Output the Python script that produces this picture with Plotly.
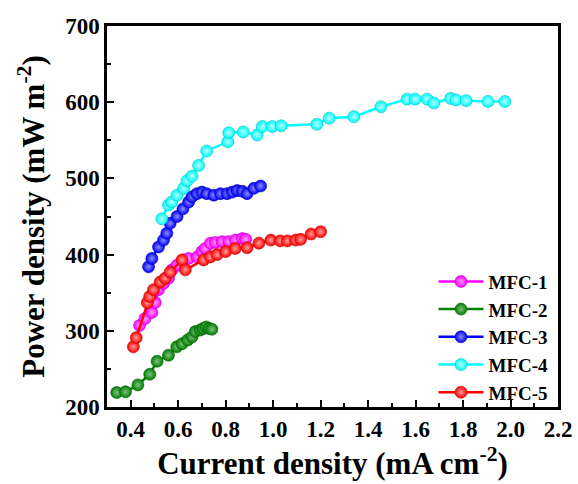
import plotly.graph_objects as go

# MFC-1 (magenta)
x1 = [0.437, 0.46, 0.489, 0.503, 0.517, 0.538, 0.559, 0.574, 0.595, 0.623, 0.644, 0.68, 0.70, 0.714, 0.736, 0.757, 0.785, 0.813, 0.841, 0.87, 0.884]
y1 = [307, 316, 324, 337, 354, 362, 369, 380, 386, 393, 395, 397, 404, 408, 415, 416, 417, 417, 419, 421, 420]

# MFC-2 (green)
x2 = [0.341, 0.378, 0.43, 0.48, 0.511, 0.559, 0.594, 0.616, 0.64, 0.658, 0.672, 0.693, 0.705, 0.718, 0.73, 0.742]
y2 = [219, 220, 229, 243, 260, 268, 279, 283, 288, 292, 299, 301, 303, 305, 303, 302]

# MFC-3 (blue)
x3 = [0.475, 0.489, 0.517, 0.538, 0.552, 0.566, 0.595, 0.62, 0.644, 0.658, 0.679, 0.70, 0.72, 0.75, 0.778, 0.806, 0.828, 0.848, 0.87, 0.89, 0.919, 0.947]
y3 = [384, 395, 410, 419, 428, 441, 450, 460, 469, 476, 480, 482, 480, 478, 480, 480, 482, 484, 483, 480, 487, 490]

# MFC-4 (cyan)
x4 = [0.531, 0.559, 0.573, 0.595, 0.623, 0.637, 0.658, 0.686, 0.72, 0.809, 0.813, 0.874, 0.933, 0.954, 0.996, 1.034, 1.184, 1.236, 1.34, 1.454, 1.564, 1.598, 1.649, 1.677, 1.748, 1.77, 1.813, 1.905, 1.976]
y4 = [447, 465, 469, 478, 487, 497, 503, 517, 536, 548, 560, 561, 557, 568, 568, 569, 571, 579, 581, 594, 604, 604, 604, 599, 605, 603, 602, 601, 601]

# MFC-5 (red)
x5 = [0.411, 0.423, 0.47, 0.48, 0.496, 0.524, 0.545, 0.566, 0.616, 0.63, 0.707, 0.735, 0.764, 0.80, 0.84, 0.89, 0.94, 0.99, 1.03, 1.06, 1.095, 1.116, 1.16, 1.20]
y5 = [279, 291, 337, 345, 354, 364, 369, 377, 393, 380, 393, 397, 400, 404, 408, 409, 415, 419, 418, 418, 419, 420, 427, 430]

names = ["MFC-1", "MFC-2", "MFC-3", "MFC-4", "MFC-5"]
colors = ["#ff00ff", "#008000", "#0000ff", "#00ffff", "#ff0000"]
edges = ["#c000c0", "#006000", "#0000b0", "#00c0c0", "#c00000"]
tints = ["#ff9cff", "#7fbf7f", "#8c8cff", "#b8ffff", "#ff9c9c"]
xs = [x1, x2, x3, x4, x5]
ys = [y1, y2, y3, y4, y5]

fig = go.Figure()
for name, c, e, t, x, y in zip(names, colors, edges, tints, xs, ys):
    fig.add_trace(go.Scatter(
        x=x, y=y, name="<b>" + name + "</b>", mode="lines+markers",
        line=dict(color=c, width=2.5),
        marker=dict(symbol="circle", size=12, color=c,
                    gradient=dict(type="radial", color=t),
                    line=dict(width=0.6, color=e)),
    ))

font_family = "Liberation Serif, Times New Roman, serif"
axis_common = dict(
    showline=True, linecolor="black", linewidth=2.5, mirror=True,
    ticks="inside", tickwidth=2, ticklen=7, tickcolor="black",
    showgrid=False, zeroline=False, automargin=False,
    tickfont=dict(family=font_family, size=23, color="black"),
)

fig.update_layout(
    width=578, height=484,
    margin=dict(l=107, r=20, t=26, b=77),
    plot_bgcolor="white", paper_bgcolor="white",
    font=dict(family=font_family, color="black"),
    xaxis=dict(range=[0.3, 2.2], tickvals=[0.4, 0.6, 0.8, 1.0, 1.2, 1.4, 1.6, 1.8, 2.0, 2.2],
               ticktext=["<b>0.4</b>", "<b>0.6</b>", "<b>0.8</b>", "<b>1.0</b>", "<b>1.2</b>",
                         "<b>1.4</b>", "<b>1.6</b>", "<b>1.8</b>", "<b>2.0</b>", "<b>2.2</b>"],
               title=dict(text="<b>Current density (mA cm<sup>-2</sup>)</b>",
                          font=dict(family=font_family, size=31, color="black"), standoff=0),
               **axis_common),
    yaxis=dict(range=[200, 700], tickvals=[200, 300, 400, 500, 600, 700],
               ticktext=["<b>200</b>", "<b>300</b>", "<b>400</b>", "<b>500</b>", "<b>600</b>", "<b>700</b>"],
               title=dict(text="<b>Power density (mW m<sup>-2</sup>)</b>",
                          font=dict(family=font_family, size=31, color="black"), standoff=12),
               **axis_common),
    legend=dict(x=0.99, y=-0.012, xanchor="right", yanchor="bottom",
                bgcolor="rgba(0,0,0,0)", borderwidth=0,
                font=dict(family=font_family, size=19, color="black"),
                itemwidth=45, tracegroupgap=0),
    showlegend=True,
)
fig.update_xaxes(minor=dict(ticks="inside", ticklen=4, tickwidth=2, tickcolor="black", dtick=0.1, tick0=0.3))
fig.update_yaxes(minor=dict(ticks="inside", ticklen=4, tickwidth=2, tickcolor="black", dtick=50, tick0=200))

fig.write_html("out.html", config={"displayModeBar": False},
               post_script="document.body.style.margin='0';document.body.style.overflow='hidden';")
